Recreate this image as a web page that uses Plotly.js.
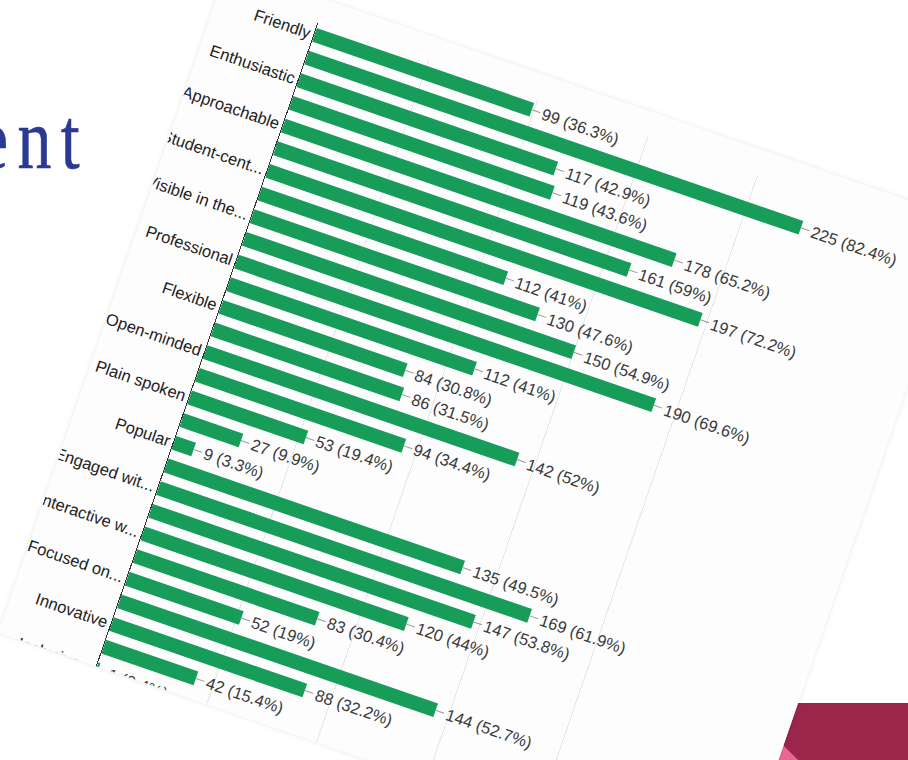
<!DOCTYPE html>
<html>
<head>
<meta charset="utf-8">
<script src="https://cdn.plot.ly/plotly-3.0.1.min.js"></script>
<style>
html,body{margin:0;padding:0;width:908px;height:760px;overflow:hidden;background:#ffffff;position:relative;}
#title{position:absolute;left:-22px;top:95px;font-family:"Liberation Serif","Times New Roman",serif;font-size:87px;line-height:1;color:#2B3A91;letter-spacing:12px;transform:scaleX(0.78);transform-origin:0 0;white-space:nowrap;-webkit-text-stroke:0.6px #2B3A91;}
#maroon{position:absolute;left:740px;top:703px;width:168px;height:57px;background:#9B254B;}
#pink{position:absolute;left:740px;top:700px;width:60px;height:60px;background:#EC6593;clip-path:polygon(0px 2px,58px 60px,0px 60px);}
#frame{position:absolute;left:228px;top:-33.8px;width:779px;height:705px;overflow:hidden;transform-origin:0 0;transform:rotate(19deg);background:#fdfdfd;box-shadow:0 0 5px rgba(0,0,0,0.10);}
#chart{width:779px;height:760px;}
</style>
</head>
<body>
<div id="title">ent</div>
<div id="maroon"></div>
<div id="pink"></div>
<div id="frame"><div id="chart"></div></div>
<script>
// Category labels shown on the axis (every other bar carries a label)
const categories = ["Friendly","Enthusiastic","Approachable","Student-cent...","Visible in the...","Professional","Flexible","Open-minded","Plain spoken","Popular","Engaged wit...","Interactive w...","Focused on...","Innovative","Inclusive..."];
// Responses per bar, top to bottom
const counts = [99,225,117,119,178,161,197,112,130,150,190,112,84,86,142,94,53,27,9,135,169,147,120,83,52,144,88,42,1];
const respondents = 273;
const xTicks = [0,50,100,150,200,250];

const rows = counts.map((_, i) => i);
const labelRows = categories.map((_, i) => i * 2);
const pct = v => Math.round(v / respondents * 1000) / 10;
const font = "Liberation Sans, Arial, sans-serif";

const trace = {
  type: 'bar',
  orientation: 'h',
  x: counts,
  y: rows,
  marker: {color: '#179c5a'},
  hoverinfo: 'none'
};

const annotations = counts.map((v, i) => ({
  x: v, y: i, xref: 'x', yref: 'y',
  text: v + ' (' + pct(v) + '%)',
  showarrow: true, arrowhead: 0, arrowwidth: 1, arrowcolor: '#9a9a9a',
  ax: 9, ay: 0, standoff: 0,
  xanchor: 'left', yanchor: 'middle',
  font: {family: font, size: 16.5, color: '#3a3a3a'}
}));

const layout = {
  width: 779, height: 760,
  margin: {l: 104, r: 94, t: 25, b: 40},
  paper_bgcolor: '#fdfdfd', plot_bgcolor: '#fdfdfd',
  showlegend: false,
  bargap: 0.4,
  xaxis: {range: [0, 250], tickvals: xTicks, showgrid: true, gridcolor: '#e6e6e6', gridwidth: 1,
          zeroline: false, showline: false, tickfont: {family: font, size: 14, color: '#444'}},
  yaxis: {range: [counts.length - 0.5, -0.5], tickvals: labelRows, ticktext: categories,
          showgrid: false, zeroline: false, showline: true, linecolor: '#333', linewidth: 1,
          ticks: '', tickfont: {family: font, size: 16.5, color: '#222'}},
  annotations: annotations
};

Plotly.newPlot('chart', [trace], layout, {displayModeBar: false, staticPlot: true});
</script>
</body>
</html>
